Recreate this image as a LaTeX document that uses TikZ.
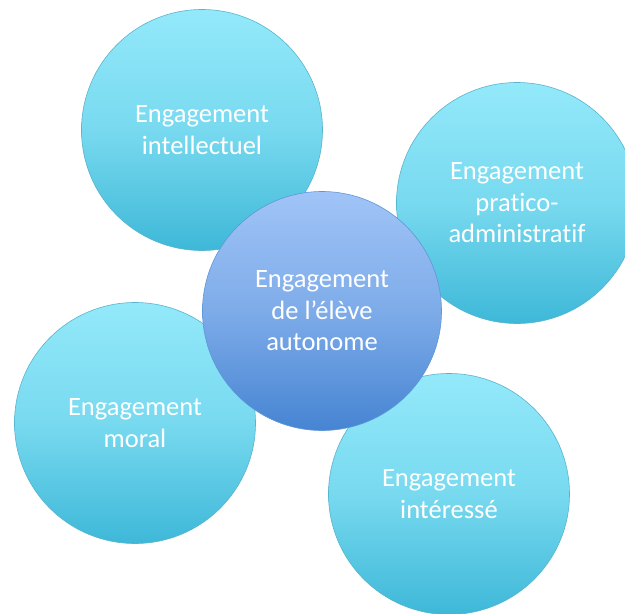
\documentclass[tikz,border=0pt]{standalone}
\usepackage{fontspec}
\setmainfont{Carlito}[Ligatures={NoCommon}]
\usepackage{tikz}
\usetikzlibrary{shapes,positioning,calc,backgrounds}
\definecolor{cyantop}{RGB}{147, 233, 250}
\definecolor{cyanbottom}{RGB}{62, 184, 216}
\definecolor{cyanedge}{RGB}{88, 180, 205}
\definecolor{bluetop}{RGB}{160, 196, 247}
\definecolor{bluebottom}{RGB}{70, 132, 210}
\definecolor{blueedge}{RGB}{96, 150, 215}

\begin{document}
\begin{tikzpicture}[
    x=1pt, y=-1pt,
    bubble/.style={circle, minimum size=241pt, inner sep=0pt, align=center,
        text=white, font=\fontsize{26.5}{31.5}\selectfont,
        top color=cyantop, bottom color=cyanbottom, middle color=cyantop!68!cyanbottom,
        draw=cyanedge, line width=0.6pt},
    core/.style={bubble, top color=bluetop, bottom color=bluebottom,
        middle color=bluetop!62!bluebottom, draw=blueedge}
]
    \useasboundingbox (0,0) rectangle (625,614);
    % Outer bubbles
    \node[bubble] (intel) at (202,130) {Engagement\\intellectuel};
    \node[bubble] (pratico) at (517,203) {Engagement\\pratico-\\administratif};
    \node[bubble] (moral) at (135,423) {Engagement\\moral};
    \node[bubble] (interesse) at (449,494) {Engagement\\intéressé};

    % Centre bubble on top
    \node[core, minimum size=239pt] (eleve) at (322,311) {Engagement\\de l’élève\\autonome};
\end{tikzpicture}
\end{document}
